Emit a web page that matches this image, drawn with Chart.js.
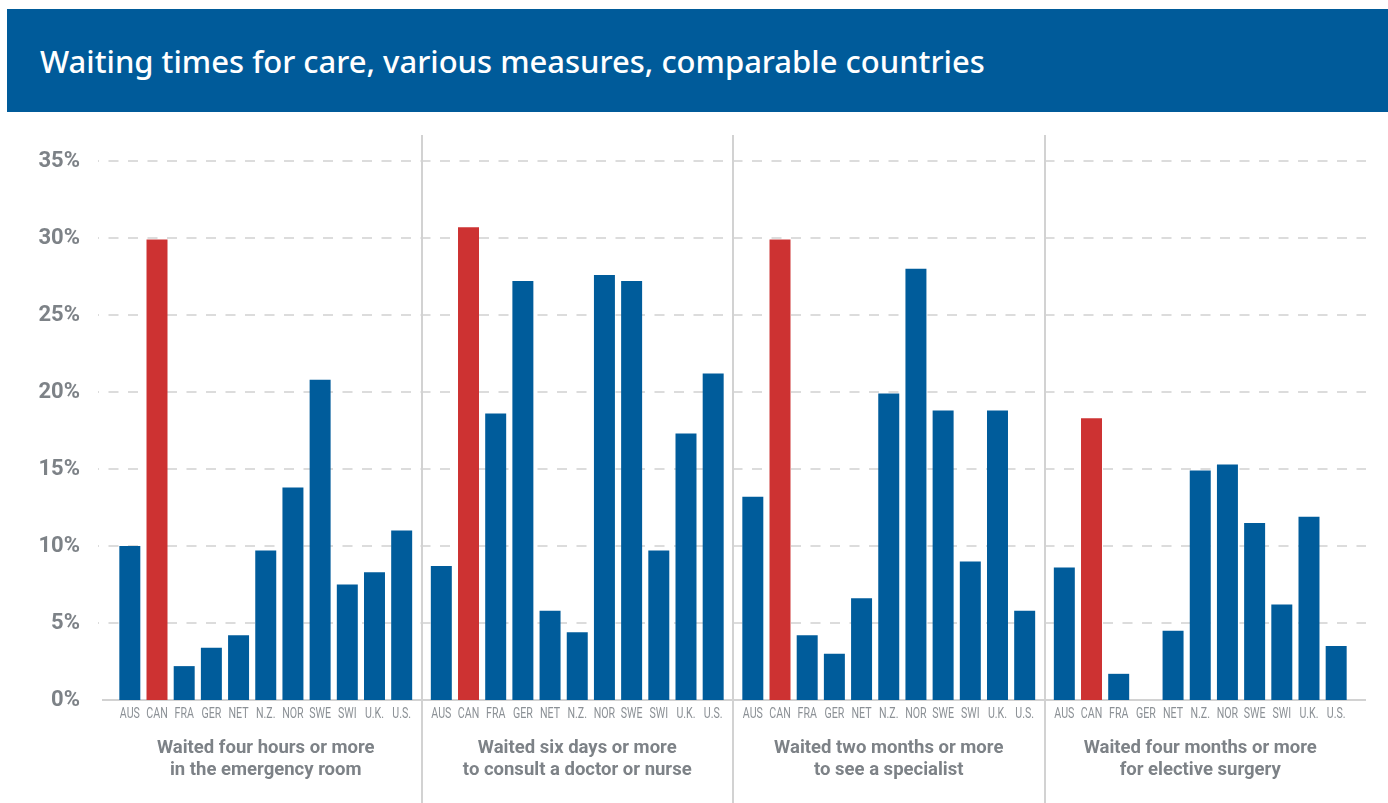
<!DOCTYPE html>
<html>
<head>
<meta charset="utf-8">
<script src="https://cdn.jsdelivr.net/npm/chart.js@4/dist/chart.umd.min.js"></script>
<style>
  html, body { margin: 0; padding: 0; background: #fff; }
  #wrap { position: relative; width: 1388px; height: 803px; overflow: hidden; }
  #banner { position: absolute; left: 7px; top: 9px; width: 1381px; height: 103px; background: rgb(0, 91, 154); z-index: 2; }
  #banner h1 { position: absolute; left: 33px; top: 37px; margin: 0; font-family: "Noto Sans", sans-serif; font-weight: 500; font-size: 31px; line-height: 31px; color: #fff; white-space: nowrap; }
  #chartBox { position: absolute; left: 0; top: 0; width: 1388px; height: 803px; }
</style>
</head>
<body>
<div id="wrap">
  <div id="banner"><h1>Waiting times for care, various measures, comparable countries</h1></div>
  <div id="chartBox"><canvas id="waitChart"></canvas></div>
</div>
<script>
// countries (one bar each per measure)
var countries = ['AUS', 'CAN', 'FRA', 'GER', 'NET', 'N.Z.', 'NOR', 'SWE', 'SWI', 'U.K.', 'U.S.'];

// measures (x axis groups)
var measures = [
    ['Waited four hours or more', 'in the emergency room'],
    ['Waited six days or more', 'to consult a doctor or nurse'],
    ['Waited two months or more', 'to see a specialist'],
    ['Waited four months or more', 'for elective surgery']
];

// % of respondents, in country order
var emergencyRoom = [10.0, 29.9, 2.2, 3.4, 4.2, 9.7, 13.8, 20.8, 7.5, 8.3, 11.0];
var doctorOrNurse = [8.7, 30.7, 18.6, 27.2, 5.8, 4.4, 27.6, 27.2, 9.7, 17.3, 21.2];
var specialist    = [13.2, 29.9, 4.2, 3.0, 6.6, 19.9, 28.0, 18.8, 9.0, 18.8, 5.8];
var surgery       = [8.6, 18.3, 1.7, null, 4.5, 14.9, 15.3, 11.5, 6.2, 11.9, 3.5];

var yTicks = [0, 5, 10, 15, 20, 25, 30, 35];

var blue = 'rgb(0, 92, 155)';
var red = 'rgb(205, 50, 50)';
var grey = '#7d8287';

var allMeasures = [emergencyRoom, doctorOrNurse, specialist, surgery];

var datasets = countries.map(function(c, i) {
    return {
        label: c,
        data: allMeasures.map(function(m) { return m[i]; }),
        backgroundColor: c === 'CAN' ? red : blue,
        categoryPercentage: 0.96,
        barPercentage: 0.772
    };
});

// dashed grid, base line and group separators behind the bars
var gridPlugin = {
    id: 'gridLines',
    beforeDatasetsDraw: function(chart) {
        var ctx = chart.ctx;
        var y = chart.scales.y;
        var x = chart.scales.x;
        ctx.save();
        ctx.lineWidth = 2;
        ctx.strokeStyle = '#dcdcdc';
        ctx.setLineDash([10, 9.5]);
        ctx.lineDashOffset = 9;
        yTicks.forEach(function(v) {
            if (v === 0) return;
            var py = Math.round(y.getPixelForValue(v));
            ctx.beginPath();
            ctx.moveTo(98, py);
            ctx.lineTo(1366, py);
            ctx.stroke();
        });
        ctx.setLineDash([]);
        ctx.strokeStyle = '#d2d2d2';
        var base = Math.round(y.getPixelForValue(0));
        ctx.beginPath();
        ctx.moveTo(102, base);
        ctx.lineTo(1366, base);
        ctx.stroke();
        for (var i = 0; i < measures.length - 1; i++) {
            var sx = Math.round((x.getPixelForValue(i) + x.getPixelForValue(i + 1)) / 2);
            ctx.beginPath();
            ctx.moveTo(sx, 135);
            ctx.lineTo(sx, chart.height);
            ctx.stroke();
        }
        ctx.restore();
    },
    afterDatasetsDraw: function(chart) {
        // country names under each bar, squeezed like a condensed face
        var ctx = chart.ctx;
        var base = chart.scales.y.getPixelForValue(0);
        ctx.save();
        ctx.fillStyle = '#8c9196';
        ctx.font = '14px Roboto, sans-serif';
        ctx.textAlign = 'center';
        ctx.textBaseline = 'middle';
        chart.data.datasets.forEach(function(ds, i) {
            var meta = chart.getDatasetMeta(i);
            meta.data.forEach(function(bar) {
                ctx.save();
                ctx.translate(bar.x, base + 14);
                ctx.scale(0.76, 1);
                ctx.fillText(ds.label, 0, 0);
                ctx.restore();
            });
        });
        ctx.restore();
    }
};

var ctx = document.getElementById('waitChart').getContext('2d');
var waitChart = new Chart(ctx, {
    type: 'bar',
    data: {
        labels: measures,
        datasets: datasets
    },
    options: {
        responsive: true,
        maintainAspectRatio: false,
        animation: false,
        events: [],
        layout: {
            padding: { top: 161, right: 32, bottom: 0, left: 0 }
        },
        plugins: {
            legend: { display: false },
            tooltip: { enabled: false }
        },
        scales: {
            x: {
                grid: { display: false, drawTicks: false },
                border: { display: false },
                ticks: {
                    color: grey,
                    padding: 37,
                    font: { family: 'Roboto', weight: 'bold', size: 18.5, lineHeight: 1.19 }
                },
                afterFit: function(s) { s.height = 103; }
            },
            y: {
                min: 0,
                max: 35,
                grid: { display: false, drawTicks: false },
                border: { display: false },
                ticks: {
                    stepSize: 5,
                    padding: 30,
                    color: grey,
                    font: { family: 'Roboto', weight: 'bold', size: 22 },
                    callback: function(v) { return v + '%'; }
                },
                afterFit: function(s) { s.width = 110; }
            }
        }
    },
    plugins: [gridPlugin]
});
</script>
</body>
</html>
